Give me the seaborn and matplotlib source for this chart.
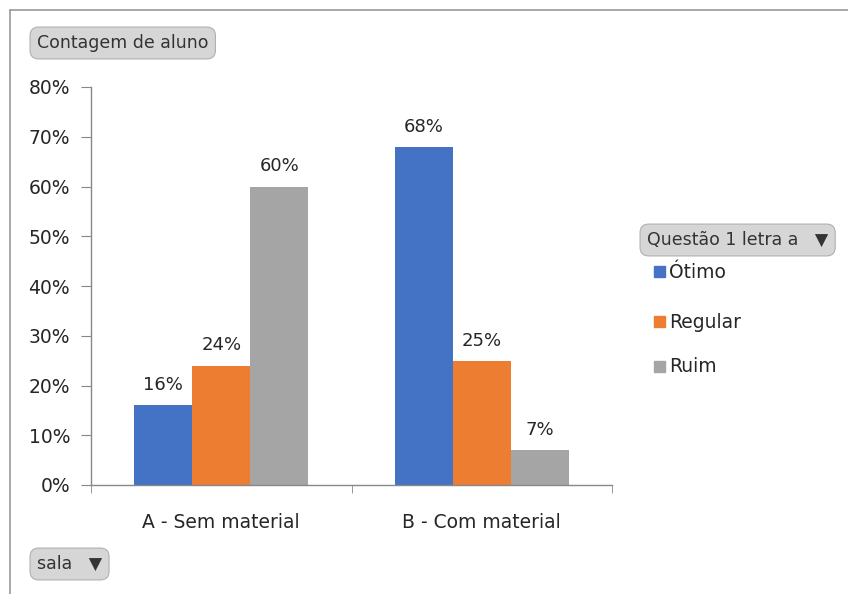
import pandas as pd
import matplotlib.pyplot as plt
import matplotlib.patches as mpatches
import seaborn as sns

salas = ["A - Sem material", "B - Com material"]
respostas = ["Ótimo", "Regular", "Ruim"]
pct_sem_material = [16, 24, 60]
pct_com_material = [68, 25, 7]
y_ticks = [0, 10, 20, 30, 40, 50, 60, 70, 80]
cores = ["#4472C4", "#ED7D31", "#A5A5A5"]

df = pd.DataFrame({
    "sala": [salas[0]] * 3 + [salas[1]] * 3,
    "resposta": respostas * 2,
    "pct": pct_sem_material + pct_com_material,
})

sns.set_style("white")
plt.rcParams["font.family"] = ["DejaVu Sans"]
txt = "#262626"

fig = plt.figure(figsize=(8.48, 5.94), dpi=100)
ax = fig.add_axes([91 / 848, 1 - 485 / 594, 521 / 848, 398 / 594])

sns.barplot(data=df, x="sala", y="pct", hue="resposta", hue_order=respostas,
            palette=cores, width=0.667, gap=0, saturation=1, linewidth=0,
            ax=ax, legend=False)

for cont in ax.containers:
    ax.bar_label(cont, fmt="%.0f%%", padding=8, fontsize=13, color=txt)

ax.set_ylim(0, 80)
ax.set_xlim(-0.5, 1.5)
ax.set_yticks(y_ticks)
ax.set_yticklabels([f"{v}%" for v in y_ticks], fontsize=13.5, color=txt)
ax.set_xticks([0, 1])
ax.set_xticklabels(salas, fontsize=13.5, color=txt)
ax.set_xticks([-0.5, 0.5, 1.5], minor=True)
ax.tick_params(axis="x", which="major", length=0, pad=20)
ax.tick_params(axis="x", which="minor", length=6, color="#888888", direction="out", bottom=True)
ax.tick_params(axis="y", length=7, color="#888888", direction="out", left=True, pad=8)
ax.set_xlabel("")
ax.set_ylabel("")
sns.despine(ax=ax)
for s in ["left", "bottom"]:
    ax.spines[s].set_color("#888888")
    ax.spines[s].set_linewidth(1)

# moldura externa do gráfico
fig.add_artist(plt.Line2D([10 / 848, 1], [1 - 10 / 594] * 2, color="#999999", lw=1.2,
                          transform=fig.transFigure))
fig.add_artist(plt.Line2D([10 / 848] * 2, [0, 1 - 10 / 594], color="#999999", lw=1.2,
                          transform=fig.transFigure))

# botões do gráfico dinâmico
botao = dict(boxstyle="round,pad=0.4,rounding_size=0.5", fc="#d6d6d6", ec="#b0b0b0", lw=0.8)
fig.text(37 / 848, 1 - 43 / 594, "Contagem de aluno", fontsize=12.5, color="#333333",
         va="center", ha="left", bbox=botao)
fig.text(647 / 848, 1 - 240 / 594, "Questão 1 letra a   ▼", fontsize=12.5, color="#333333",
         va="center", ha="left", bbox=botao)
fig.text(37 / 848, 1 - 564 / 594, "sala   ▼", fontsize=12.5, color="#333333",
         va="center", ha="left", bbox=botao)

# legenda
for i, (nome, cor) in enumerate(zip(respostas, cores)):
    y = 1 - [272, 322, 367][i] / 594
    fig.add_artist(mpatches.Rectangle((654 / 848, y - 5 / 594), 11 / 848, 11 / 594,
                                      color=cor, transform=fig.transFigure))
    fig.text(669 / 848, y, nome, fontsize=13.5, color=txt, va="center", ha="left")

fig.savefig("out.png", dpi=100, facecolor="white")
